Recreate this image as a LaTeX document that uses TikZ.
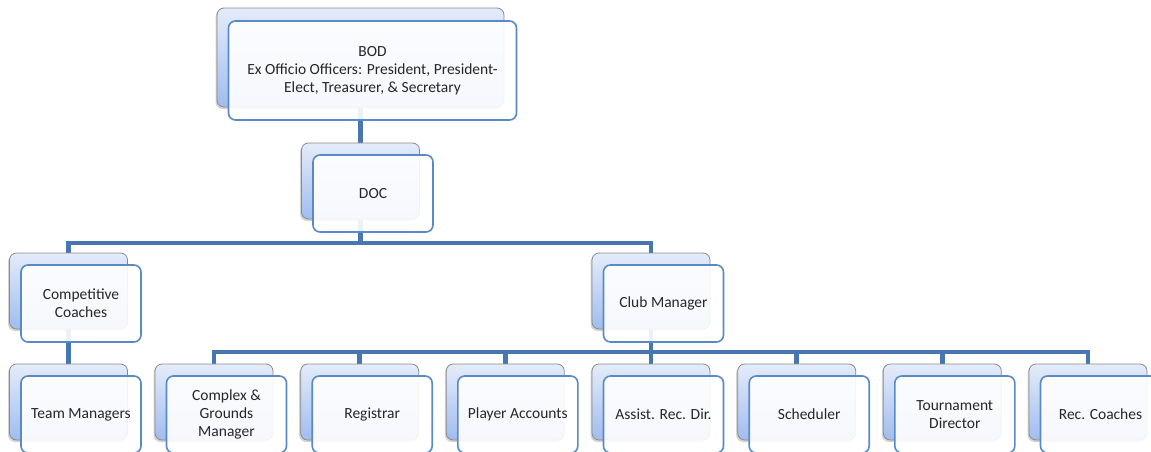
\documentclass[tikz,border=0pt]{standalone}
\usepackage{fontspec}
\setmainfont{Carlito}
\usetikzlibrary{shadows,backgrounds}
\definecolor{frontblue}{HTML}{5A8AC6}
\definecolor{connblue}{HTML}{4776B2}
\definecolor{backtop}{HTML}{E4ECFA}
\definecolor{backbot}{HTML}{A0BCEF}
\definecolor{backedge}{HTML}{8A8A8A}
\tikzset{
  backbox/.style={draw=backedge, line width=0.8pt, rounded corners=7pt,
    top color=backtop, bottom color=backbot, minimum width=118pt, minimum height=76pt,
    inner sep=0pt, drop shadow={shadow xshift=-1.5pt, shadow yshift=-2pt, opacity=0.35}},
  frontbox/.style={draw=frontblue, line width=1.6pt, rounded corners=7pt,
    fill=white, fill opacity=0.9, text opacity=1, minimum width=120pt, minimum height=77pt,
    inner sep=0pt, align=center, font=\fontsize{15.5}{18}\selectfont, text=black!85},
  conn/.style={draw=connblue, line width=4.5pt}
}
\newcommand\orgpair[4]{%
  \node[backbox] (#1B) at (#2,#3) {};
  \node[frontbox] (#1) at (#2+12.5,#3+12.5) {#4};}
\begin{document}
\begin{tikzpicture}[x=1pt,y=-1pt]
\useasboundingbox (0,0) rectangle (1151,452);
% top
\node[backbox, minimum width=287pt, minimum height=99pt] (bodB) at (360.5,57.5) {};
\node[frontbox, minimum width=288pt, minimum height=99pt] (bod) at (372.5,70.5) {BOD\\Ex Officio Officers: President, President-\\Elect, Treasurer, \& Secretary};
\orgpair{doc}{360.5}{181}{DOC}
\orgpair{cc}{68.5}{291}{Competitive\\Coaches}
\orgpair{cm}{651}{291}{Club Manager}
\orgpair{tm}{68.5}{402}{Team Managers}
\orgpair{cg}{214}{402}{Complex \&\\Grounds\\Manager}
\orgpair{reg}{359.7}{402}{Registrar}
\orgpair{pa}{505.3}{402}{Player Accounts}
\orgpair{ard}{651}{402}{Assist. Rec. Dir.}
\orgpair{sch}{796.7}{402}{Scheduler}
\orgpair{td}{942.3}{402}{Tournament\\Director}
\orgpair{rc}{1088}{402}{Rec. Coaches}
\coordinate (bar1) at (0,243);
\coordinate (bar2) at (0,352);
\begin{scope}[on background layer]
\draw[conn] (bodB.center) -- (docB.center);
\draw[conn] (docB.center) |- (ccB.center |- bar1) -- (ccB.center);
\draw[conn] (docB.center) |- (cmB.center |- bar1) -- (cmB.center);
\draw[conn] (ccB.center) -- (tmB.center);
\foreach \n in {cg,reg,pa,ard,sch,td,rc}{
  \draw[conn] (cmB.center) |- (\n B.center |- bar2) -- (\n B.center);
}
\end{scope}
\end{tikzpicture}
\end{document}
